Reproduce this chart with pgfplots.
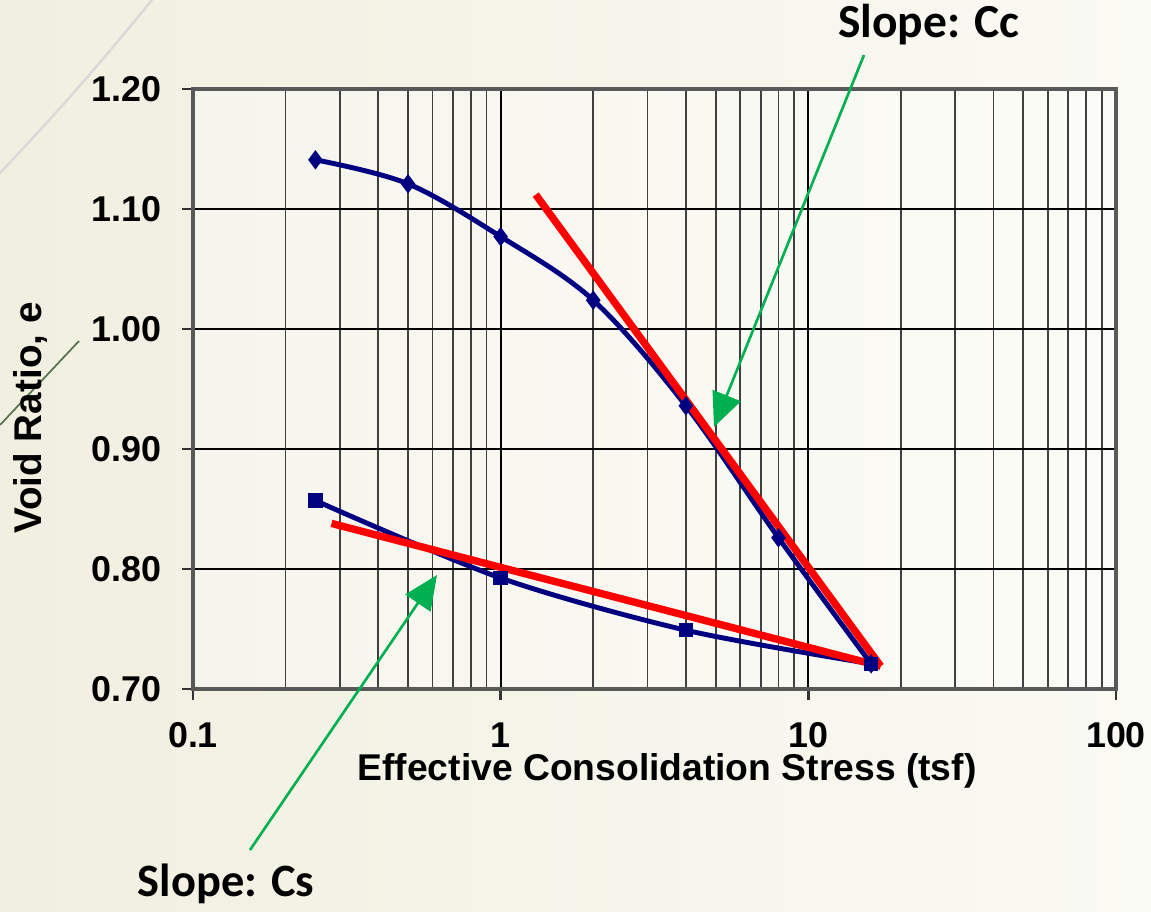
\documentclass[border=0pt]{standalone}
\usepackage{pgfplots}
\pgfplotsset{compat=1.18}
\usepackage{fontspec}
\setmainfont{Liberation Sans}
\newfontfamily\calibri{Carlito}
\usetikzlibrary{arrows.meta}
\definecolor{bgL}{RGB}{240,239,224}
\definecolor{bgR}{RGB}{250,250,244}
\definecolor{navy}{RGB}{0,0,128}
\definecolor{arrowgreen}{RGB}{0,176,80}
\definecolor{decogreen}{RGB}{90,115,80}
\begin{document}
\begin{tikzpicture}[x=1cm,y=1cm]
\useasboundingbox (0,0) rectangle (11.51,9.11);
\shade[left color=bgL,right color=bgR] (0,0) rectangle (11.51,9.11);
\draw[black!15,line width=0.7pt] (1.52,9.11) to[bend left=2] (0,7.38);
\draw[decogreen,line width=0.5pt] (0.79,5.70) -- (0,4.86);
\begin{axis}[
  at={(1.93cm,2.22cm)}, anchor=south west,
  scale only axis, width=9.23cm, height=6cm,
  xmode=log, xmin=0.1, xmax=100, ymin=0.7, ymax=1.2,
  xtick={0.1,1,10,100}, xticklabels={0.1,1,10,100},
  minor xtick={0.2,0.3,0.4,0.5,0.6,0.7,0.8,0.9,2,3,4,5,6,7,8,9,20,30,40,50,60,70,80,90},
  ytick={0.7,0.8,0.9,1.0,1.1,1.2},
  yticklabels={0.70,0.80,0.90,1.00,1.10,1.20},
  grid=both,
  major grid style={black,line width=0.6pt},
  minor grid style={black!75,line width=0.5pt},
  tick pos=left,
  tick align=outside, major tick length=0.11cm, minor tick length=0pt,
  tick style={black!80,line width=0.7pt},
  axis line style={black!65,line width=0.9pt},
  ticklabel style={font=\bfseries\fontsize{10.2}{12}\selectfont},
  yticklabel style={xshift=-0.08cm},
  xticklabel style={yshift=-0.1cm},
  /pgf/number format/assume math mode=true,
  axis background/.style={fill=white,fill opacity=0.35},
]
\addplot[navy,line width=1.4pt,smooth,tension=0.55,mark=diamond*,mark size=1.6pt,mark options={solid,fill=navy}]
 coordinates {(0.25,1.141)(0.5,1.121)(1,1.077)(2,1.024)(4,0.936)(8,0.826)(16,0.721)};
\addplot[navy,line width=1.4pt,smooth,tension=0.5,mark=square*,mark size=1.35pt,mark options={solid,fill=navy}]
 coordinates {(0.25,0.857)(1,0.7925)(4,0.749)(16,0.721)};
\addplot[red,line width=2.1pt] coordinates {(1.3,1.112)(17.2,0.719)};
\addplot[red,line width=2.1pt] coordinates {(0.282,0.838)(17.2,0.719)};
\end{axis}
\node[rotate=90,font=\bfseries\fontsize{11}{13}\selectfont] at (0.30,4.93) {Void Ratio, e};
\node[font=\bfseries\fontsize{10.6}{12}\selectfont] at (6.67,1.40) {Effective Consolidation Stress (tsf)};
\draw[arrowgreen,line width=0.75pt,-{Triangle[length=0.34cm,width=0.3cm]}] (8.64,8.56) -- (7.14,4.84);
\draw[arrowgreen,line width=0.75pt,-{Triangle[length=0.34cm,width=0.3cm]}] (2.50,0.61) -- (4.37,3.36);
\node[font=\calibri\bfseries\fontsize{13.5}{15}\selectfont] at (9.29,8.86) {Slope: Cc};
\node[font=\calibri\bfseries\fontsize{13.2}{15}\selectfont] at (2.26,0.27) {Slope: Cs};
\end{tikzpicture}
\end{document}
